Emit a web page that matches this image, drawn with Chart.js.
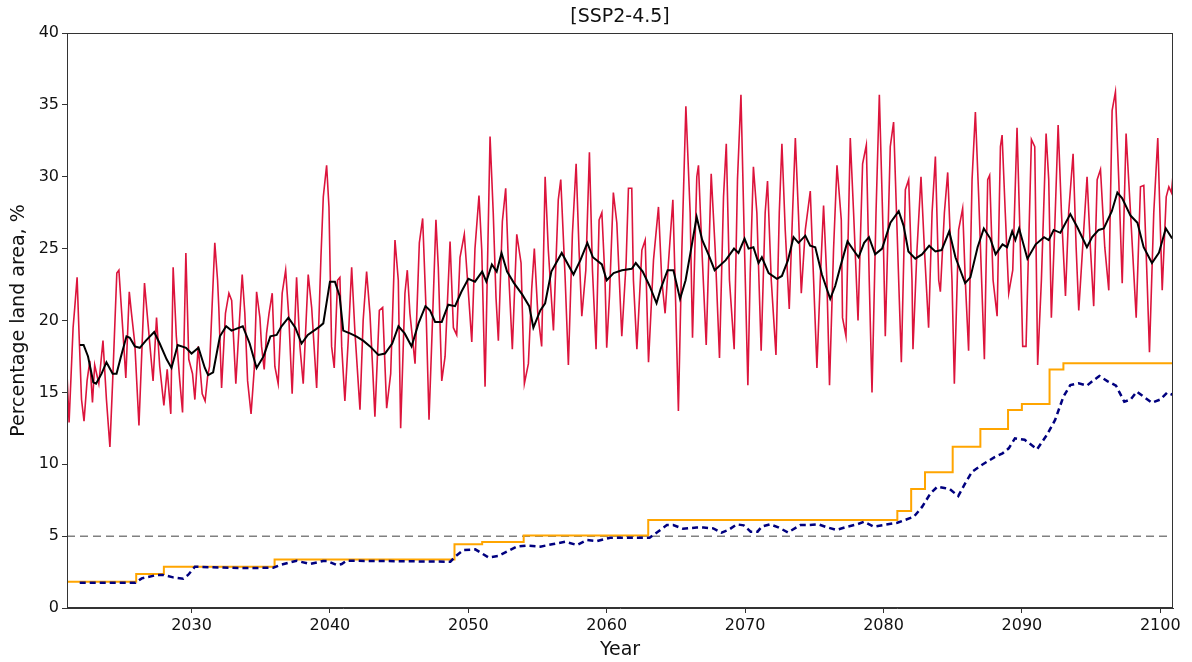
<!DOCTYPE html>
<html>
<head>
<meta charset="utf-8">
<title>[SSP2-4.5]</title>
<script src="https://cdn.jsdelivr.net/npm/chart.js@4.4.1/dist/chart.umd.min.js"></script>
<style>
  html, body { margin: 0; padding: 0; background: #fff; }
</style>
</head>
<body>
<canvas id="landChart" width="1192" height="662"></canvas>
<script>
// x range and ticks
var xMin = 2021
var xMax = 2100.92
var xTicks = [2030, 2040, 2050, 2060, 2070, 2080, 2090, 2100]
var yTicks = [0, 5, 10, 15, 20, 25, 30, 35, 40]
var threshold = 5
var plotTitle = '[SSP2-4.5]'

// monthly land area (red)
var redYears = [
  2021.0, 2021.15, 2021.44, 2021.56, 2021.73, 2021.87, 2022.05, 2022.23, 2022.45, 2022.65,
  2022.84, 2023.0, 2023.3, 2023.6, 2023.85, 2024.1, 2024.3, 2024.6, 2024.75, 2025.05,
  2025.25, 2025.5, 2025.66, 2025.9, 2026.2, 2026.6, 2026.79, 2026.98, 2027.22, 2027.47,
  2027.7, 2028.0, 2028.24, 2028.5, 2028.67, 2028.9, 2029.15, 2029.35, 2029.59, 2029.8,
  2030.07, 2030.24, 2030.48, 2030.77, 2030.98, 2031.16, 2031.3, 2031.68, 2031.88, 2031.97,
  2032.17, 2032.45, 2032.7, 2032.9, 2033.2, 2033.42, 2033.66, 2033.85, 2034.05, 2034.3,
  2034.53, 2034.7, 2034.94, 2035.06, 2035.25, 2035.42, 2035.6, 2035.83, 2036.02, 2036.26,
  2036.55, 2036.8, 2037.03, 2037.27, 2037.59, 2037.83, 2038.07, 2038.43, 2038.68, 2039.04,
  2039.35, 2039.52, 2039.76, 2039.93, 2040.12, 2040.31, 2040.55, 2040.72, 2040.85, 2041.08,
  2041.32, 2041.57, 2041.8, 2042.17, 2042.4, 2042.65, 2042.89, 2043.09, 2043.25, 2043.57,
  2043.81, 2044.1, 2044.39, 2044.7, 2044.94, 2045.11, 2045.42, 2045.59, 2045.78, 2046.15,
  2046.46, 2046.7, 2046.94, 2047.16, 2047.43, 2047.66, 2047.83, 2048.08, 2048.32, 2048.68,
  2048.92, 2049.16, 2049.4, 2049.71, 2050.0, 2050.25, 2050.48, 2050.77, 2050.97, 2051.21,
  2051.57, 2051.8, 2052.0, 2052.17, 2052.46, 2052.7, 2052.94, 2053.18, 2053.5, 2053.81,
  2054.05, 2054.34, 2054.58, 2054.77, 2055.02, 2055.3, 2055.55, 2055.78, 2056.15, 2056.5,
  2056.68, 2056.99, 2057.23, 2057.52, 2057.79, 2058.0, 2058.2, 2058.49, 2058.75, 2058.97,
  2059.23, 2059.45, 2059.65, 2059.88, 2060.0, 2060.2, 2060.48, 2060.73, 2061.09, 2061.4,
  2061.57, 2061.81, 2061.93, 2062.18, 2062.54, 2062.78, 2063.02, 2063.38, 2063.74, 2063.98,
  2064.22, 2064.46, 2064.78, 2064.94, 2065.18, 2065.43, 2065.72, 2066.03, 2066.2, 2066.51,
  2066.63, 2066.88, 2067.19, 2067.55, 2067.84, 2068.15, 2068.44, 2068.64, 2068.87, 2069.21,
  2069.45, 2069.7, 2069.96, 2070.2, 2070.37, 2070.6, 2070.85, 2071.16, 2071.45, 2071.62,
  2071.89, 2072.23, 2072.47, 2072.66, 2072.9, 2073.19, 2073.43, 2073.63, 2073.86, 2074.06,
  2074.35, 2074.71, 2074.95, 2075.19, 2075.43, 2075.67, 2075.91, 2076.1, 2076.39, 2076.64,
  2076.95, 2077.04, 2077.29, 2077.6, 2077.84, 2078.16, 2078.49, 2078.76, 2078.97, 2079.17,
  2079.46, 2079.7, 2080.0, 2080.13, 2080.49, 2080.73, 2080.98, 2081.29, 2081.58, 2081.82,
  2082.06, 2082.13, 2082.42, 2082.71, 2082.96, 2083.26, 2083.51, 2083.75, 2083.99, 2084.11,
  2084.4, 2084.64, 2084.95, 2085.12, 2085.43, 2085.72, 2085.91, 2086.15, 2086.4, 2086.64,
  2086.88, 2087.29, 2087.53, 2087.67, 2087.92, 2088.21, 2088.45, 2088.57, 2088.8, 2089.05,
  2089.34, 2089.65, 2089.89, 2090.06, 2090.3, 2090.69, 2090.93, 2091.14, 2091.41, 2091.75,
  2091.94, 2092.13, 2092.37, 2092.62, 2092.86, 2093.15, 2093.38, 2093.7, 2093.92, 2094.11,
  2094.47, 2094.71, 2094.95, 2095.19, 2095.44, 2095.68, 2095.99, 2096.28, 2096.52, 2096.76,
  2097.0, 2097.25, 2097.53, 2097.85, 2098.26, 2098.57, 2098.81, 2099.05, 2099.22, 2099.53,
  2099.82, 2100.01, 2100.14, 2100.43, 2100.62, 2100.81, 2100.92
]
var redValues = [
  16.3, 12.9, 19.5, 20.9, 23.0, 19.1, 14.5, 13.0, 15.8, 17.2,
  14.3, 16.9, 15.6, 18.6, 14.5, 11.2, 15.8, 23.3, 23.5, 19.1,
  16.0, 22.0, 20.5, 18.4, 12.7, 22.6, 20.5, 18.4, 15.8, 20.2,
  16.8, 14.1, 16.6, 13.5, 23.7, 18.9, 15.8, 13.6, 24.7, 17.3,
  16.3, 14.5, 18.2, 14.9, 14.4, 16.1, 16.8, 25.4, 22.8, 20.9,
  15.3, 20.5, 21.9, 21.4, 15.6, 19.3, 23.2, 20.5, 15.8, 13.5,
  16.6, 22.0, 20.2, 18.2, 16.6, 19.1, 20.5, 21.9, 16.8, 15.6,
  21.9, 23.5, 20.2, 14.9, 23.0, 18.2, 15.6, 23.2, 20.9, 15.3,
  24.4, 28.6, 30.8, 27.9, 18.2, 16.7, 22.8, 23.0, 18.2, 14.4,
  18.6, 23.7, 19.3, 13.8, 20.0, 23.4, 20.5, 16.6, 13.3, 20.7,
  20.9, 13.9, 16.3, 25.6, 22.8, 12.5, 21.9, 23.5, 20.5, 17.0,
  25.4, 27.1, 20.9, 13.1, 20.5, 27.0, 23.7, 15.8, 17.5, 25.5,
  19.5, 19.0, 24.4, 26.0, 22.0, 18.5, 25.0, 28.7, 24.9, 15.4,
  32.8, 27.5, 21.6, 18.6, 26.9, 29.2, 22.8, 18.0, 26.0, 24.0,
  15.6, 17.0, 22.2, 25.0, 20.5, 18.2, 30.0, 24.9, 19.3, 28.4,
  29.8, 23.1, 16.9, 26.0, 30.9, 24.9, 20.3, 23.5, 31.7, 23.5,
  18.0, 27.0, 27.5, 22.8, 18.1, 21.7, 28.9, 26.8, 18.9, 24.0,
  29.2, 29.2, 22.8, 18.0, 24.9, 25.6, 17.1, 24.2, 27.9, 22.8,
  20.5, 24.0, 28.4, 22.8, 13.7, 24.9, 34.9, 27.5, 18.8, 30.0,
  30.8, 24.9, 18.3, 30.2, 24.9, 17.4, 28.6, 32.3, 22.8, 18.0,
  29.8, 35.7, 24.9, 15.5, 23.3, 30.7, 27.5, 17.9, 27.5, 29.7,
  22.8, 17.6, 27.5, 32.3, 26.3, 20.8, 27.5, 32.7, 27.3, 21.9,
  26.3, 29.0, 22.8, 16.7, 22.8, 28.0, 22.8, 15.5, 24.9, 30.8,
  27.0, 20.2, 18.9, 32.7, 27.5, 20.0, 30.9, 32.2, 22.8, 15.0,
  27.5, 35.7, 25.1, 18.9, 32.1, 33.8, 26.3, 17.1, 29.1, 29.8,
  22.8, 18.0, 24.9, 30.0, 24.9, 19.5, 27.5, 31.4, 22.8, 22.0,
  27.5, 30.3, 22.8, 15.6, 26.3, 27.8, 22.8, 17.9, 29.8, 34.5,
  28.6, 17.3, 29.8, 30.1, 22.8, 20.3, 32.1, 32.9, 27.5, 21.9,
  23.5, 33.4, 25.1, 18.2, 18.2, 32.6, 32.1, 16.9, 22.8, 33.0,
  29.8, 20.2, 26.3, 33.6, 27.5, 21.7, 27.5, 31.6, 25.1, 20.7,
  26.3, 30.0, 25.1, 21.0, 29.8, 30.5, 25.1, 22.1, 34.6, 35.9,
  29.8, 22.6, 33.0, 27.5, 20.2, 29.3, 29.4, 22.8, 17.8, 27.5,
  32.7, 26.3, 22.1, 28.6, 29.3, 28.9, 30.1
]

// running mean (black)
var meanYears = [
  2021.93, 2022.2, 2022.52, 2022.9, 2023.1, 2023.5, 2023.85, 2024.3, 2024.58, 2024.9,
  2025.3, 2025.54, 2025.9, 2026.26, 2026.7, 2027.3, 2027.7, 2028.2, 2028.55, 2029.0,
  2029.6, 2030.0, 2030.5, 2030.96, 2031.2, 2031.56, 2032.05, 2032.5, 2032.89, 2033.7,
  2034.2, 2034.7, 2035.2, 2035.7, 2036.15, 2036.5, 2037.0, 2037.5, 2037.95, 2038.4,
  2039.15, 2039.52, 2040.0, 2040.36, 2040.7, 2040.96, 2041.45, 2041.9, 2042.4, 2042.9,
  2043.5, 2043.98, 2044.5, 2044.95, 2045.4, 2045.9, 2046.4, 2046.9, 2047.23, 2047.6,
  2048.08, 2048.55, 2049.04, 2049.5, 2050.0, 2050.48, 2051.0, 2051.3, 2051.7, 2052.05,
  2052.4, 2052.8, 2053.3, 2053.9, 2054.4, 2054.7, 2055.2, 2055.55, 2056.0, 2056.75,
  2057.6, 2058.1, 2058.6, 2059.0, 2059.65, 2060.0, 2060.5, 2061.1, 2061.81, 2062.1,
  2062.6, 2063.1, 2063.6, 2063.9, 2064.4, 2064.82, 2065.3, 2065.7, 2066.05, 2066.5,
  2066.9, 2067.35, 2067.8, 2068.6, 2069.2, 2069.52, 2069.96, 2070.25, 2070.6, 2070.97,
  2071.21, 2071.7, 2072.3, 2072.66, 2073.1, 2073.5, 2073.86, 2074.35, 2074.7, 2075.07,
  2075.55, 2076.15, 2076.51, 2076.9, 2077.4, 2077.9, 2078.2, 2078.6, 2078.95, 2079.4,
  2079.9, 2080.5, 2081.1, 2081.45, 2081.8, 2082.3, 2082.78, 2083.3, 2083.75, 2084.2,
  2084.75, 2085.2, 2085.9, 2086.28, 2086.8, 2087.25, 2087.72, 2088.1, 2088.6, 2088.93,
  2089.3, 2089.53, 2089.8, 2090.4, 2091.0, 2091.6, 2091.94, 2092.3, 2092.78, 2093.5,
  2094.0, 2094.7, 2095.08, 2095.55, 2095.92, 2096.5, 2096.9, 2097.25, 2097.85, 2098.35,
  2098.8, 2099.4, 2099.9, 2100.4, 2100.86
]
var meanValues = [
  18.3, 18.3, 17.5, 15.7, 15.6, 16.3, 17.1, 16.3, 16.3, 17.5,
  18.9, 18.8, 18.2, 18.1, 18.6, 19.2, 18.4, 17.3, 16.7, 18.3,
  18.1, 17.7, 18.1, 16.7, 16.2, 16.4, 18.9, 19.6, 19.3, 19.6,
  18.4, 16.7, 17.5, 18.9, 19.0, 19.6, 20.2, 19.5, 18.4, 19.0,
  19.5, 19.8, 22.7, 22.7, 21.7, 19.3, 19.1, 18.9, 18.6, 18.2,
  17.6, 17.7, 18.4, 19.6, 19.1, 18.2, 19.8, 21.0, 20.7, 19.9,
  19.9, 21.1, 21.0, 22.0, 22.9, 22.7, 23.4, 22.7, 23.9, 23.4,
  24.7, 23.4, 22.6, 21.8, 21.0, 19.5, 20.7, 21.2, 23.4, 24.7,
  23.2, 24.2, 25.4, 24.4, 23.9, 22.8, 23.3, 23.5, 23.6, 24.0,
  23.4, 22.4, 21.2, 22.2, 23.5, 23.5, 21.5, 22.8, 24.7, 27.2,
  25.6, 24.6, 23.5, 24.2, 25.0, 24.7, 25.7, 25.0, 25.1, 24.0,
  24.4, 23.3, 22.9, 23.1, 24.2, 25.8, 25.4, 25.9, 25.2, 25.1,
  23.2, 21.5, 22.4, 23.8, 25.5, 24.8, 24.4, 25.4, 25.8, 24.6,
  25.0, 26.8, 27.6, 26.6, 24.8, 24.3, 24.6, 25.2, 24.8, 24.9,
  26.2, 24.4, 22.6, 23.0, 25.1, 26.4, 25.7, 24.6, 25.3, 25.1,
  26.2, 25.6, 26.4, 24.3, 25.3, 25.8, 25.6, 26.3, 26.1, 27.4,
  26.5, 25.1, 25.8, 26.3, 26.4, 27.6, 28.9, 28.5, 27.3, 26.8,
  25.1, 24.0, 24.7, 26.4, 25.7
]

// annual threshold steps (orange)
var stepYears = [2021, 2026, 2028, 2036, 2049, 2051, 2054, 2063, 2081, 2082, 2083, 2085, 2087, 2089, 2090, 2092, 2093, 2100.92]
var stepValues = [1.82, 2.37, 2.87, 3.37, 4.43, 4.59, 5.05, 6.12, 6.75, 8.28, 9.44, 11.22, 12.45, 13.77, 14.19, 16.6, 17.02, 17.02]

// smoothed share (navy dashed)
var navyYears = [
  2021.92, 2025.96, 2026.4, 2027.5, 2027.95, 2028.67, 2029.4, 2029.75, 2030.24, 2033.5,
  2035.9, 2036.4, 2037.6, 2038.55, 2039.5, 2039.8, 2040.5, 2040.85, 2041.2, 2048.7,
  2049.04, 2049.64, 2050.5, 2051.45, 2052.17, 2052.78, 2053.5, 2054.2, 2055.2, 2056.15,
  2057.0, 2057.84, 2058.56, 2059.3, 2060.25, 2063.1, 2063.7, 2064.35, 2064.8, 2065.5,
  2066.5, 2067.0, 2067.7, 2068.3, 2068.8, 2069.4, 2069.9, 2070.4, 2070.9, 2071.2,
  2071.8, 2072.4, 2073.1, 2074.0, 2074.6, 2075.3, 2075.9, 2076.6, 2077.4, 2078.1,
  2078.6, 2079.3, 2080.0, 2081.0, 2082.2, 2082.8, 2083.4, 2083.9, 2084.4, 2084.8,
  2085.4, 2085.9, 2086.4, 2087.1, 2088.0, 2088.6, 2089.05, 2089.5, 2090.2, 2091.1,
  2091.8, 2092.4, 2093.0, 2093.5, 2094.1, 2094.7, 2095.2, 2095.6, 2096.2, 2096.8,
  2097.4, 2097.85, 2098.3, 2098.8, 2099.4, 2100.0, 2100.5, 2100.92
]
var navyValues = [
  1.76, 1.76, 2.06, 2.3, 2.3, 2.13, 2.04, 2.3, 2.87, 2.78,
  2.8, 2.99, 3.29, 3.06, 3.27, 3.27, 2.99, 3.06, 3.29, 3.22,
  3.57, 4.03, 4.08, 3.52, 3.62, 3.92, 4.27, 4.34, 4.27, 4.45,
  4.61, 4.38, 4.73, 4.66, 4.89, 4.89, 5.31, 5.77, 5.77, 5.52,
  5.6, 5.6, 5.54, 5.24, 5.43, 5.82, 5.75, 5.31, 5.31, 5.66,
  5.82, 5.61, 5.26, 5.77, 5.77, 5.82, 5.62, 5.43, 5.66, 5.82,
  6.0, 5.66, 5.77, 5.93, 6.35, 7.05, 7.98, 8.44, 8.35, 8.26,
  7.79, 8.67, 9.48, 9.95, 10.48, 10.76, 11.11, 11.8, 11.7, 11.04,
  12.03, 13.08, 14.7, 15.51, 15.63, 15.47, 15.86, 16.14, 15.77, 15.47,
  14.35, 14.5, 15.05, 14.7, 14.28, 14.5, 14.98, 14.82
]

function toPoints(xs, ys) {
  return xs.map(function (x, i) { return { x: x, y: ys[i] } })
}

// box around the plot plus the title centred over the axes
var frameBox = {
  id: 'frameBox',
  afterDraw: function (chart) {
    var ctx = chart.ctx
    var a = chart.chartArea
    ctx.save()
    ctx.strokeStyle = '#333'
    ctx.lineWidth = 1
    ctx.strokeRect(Math.round(a.left) + 0.5, Math.round(a.top) + 0.5,
      Math.round(a.right - a.left) - 1, Math.round(a.bottom - a.top) - 1)
    ctx.fillStyle = '#111'
    ctx.font = "19px 'DejaVu Sans', sans-serif"
    ctx.textAlign = 'center'
    ctx.textBaseline = 'middle'
    ctx.fillText(plotTitle, (a.left + a.right) / 2, 17)
    ctx.restore()
  }
}

Chart.defaults.font.family = "'DejaVu Sans', sans-serif"
Chart.defaults.color = '#111'

var ctx = document.getElementById('landChart').getContext('2d')
var myChart = new Chart(ctx, {
  type: 'line',
  data: {
    datasets: [
      {
        label: 'monthly',
        data: toPoints(redYears, redValues),
        borderColor: '#dc143c',
        borderWidth: 1.6,
        order: 6,
      },
      {
        label: '5%',
        data: toPoints([xMin, xMax], [threshold, threshold]),
        borderColor: '#808080',
        borderWidth: 1.5,
        borderDash: [8, 5],
        order: 5,
      },
      {
        label: 'steps',
        data: toPoints(stepYears, stepValues),
        borderColor: '#ffa500',
        borderWidth: 2,
        stepped: true,
        order: 4,
      },
      {
        label: 'smoothed',
        data: toPoints(navyYears, navyValues),
        borderColor: '#00007f',
        borderWidth: 2.5,
        borderDash: [6, 4],
        order: 3,
      },
      {
        label: 'mean',
        data: toPoints(meanYears, meanValues),
        borderColor: '#000000',
        borderWidth: 2,
        order: 2,
      },
    ],
  },
  options: {
    responsive: false,
    animation: false,
    elements: {
      point: { radius: 0 },
      line: { tension: 0, fill: false },
    },
    layout: { padding: { left: 0, right: 19, top: 33, bottom: 0 } },
    plugins: {
      legend: { display: false },
      tooltip: { enabled: false },
      title: { display: false },
    },
    scales: {
      x: {
        type: 'linear',
        min: xMin,
        max: xMax,
        afterBuildTicks: function (scale) {
          scale.ticks = xTicks.map(function (v) { return { value: v } })
        },
        afterFit: function (scale) { scale.height = 54 },
        ticks: {
          font: { size: 16 },
          color: '#111',
          maxRotation: 0,
          padding: 3,
          callback: function (v) { return String(v) },
        },
        grid: { drawOnChartArea: false, drawTicks: true, tickLength: 5, color: '#333' },
        border: { display: true, color: '#333' },
        title: {
          display: true,
          text: 'Year',
          font: { size: 19 },
          color: '#111',
          padding: { top: 0, bottom: 1 },
        },
      },
      y: {
        min: yTicks[0],
        max: yTicks[yTicks.length - 1],
        afterBuildTicks: function (scale) {
          scale.ticks = yTicks.map(function (v) { return { value: v } })
        },
        afterFit: function (scale) { scale.width = 67 },
        ticks: { font: { size: 16 }, color: '#111', padding: 3 },
        grid: { drawOnChartArea: false, drawTicks: true, tickLength: 5, color: '#333' },
        border: { display: true, color: '#333' },
        title: {
          display: true,
          text: 'Percentage land area, %',
          font: { size: 19 },
          color: '#111',
          padding: { top: 8, bottom: 0 },
        },
      },
    },
  },
  plugins: [frameBox],
})
</script>
</body>
</html>
